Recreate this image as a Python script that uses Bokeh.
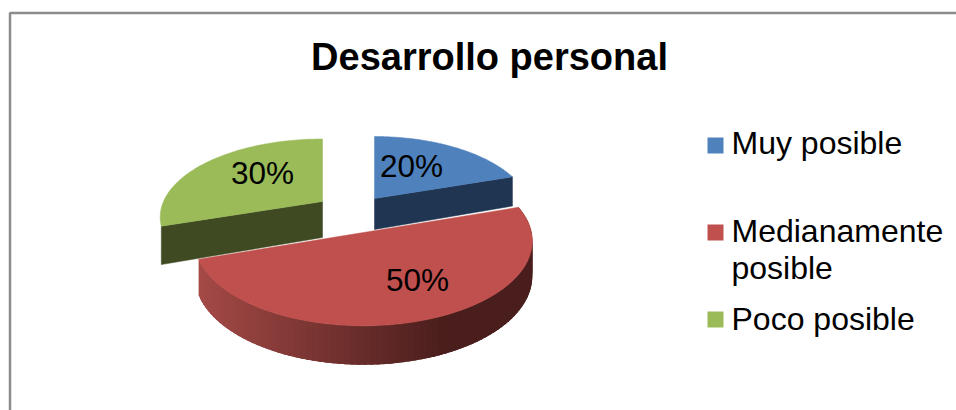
import math
from bokeh.plotting import figure
from bokeh.models import Range1d
from bokeh.core.properties import value
from bokeh.embed import file_html
from bokeh.resources import INLINE

# Data
title = "Desarrollo personal"
categories = ["Muy posible", "Medianamente posible", "Poco posible"]
shares = [20, 50, 30]

# Style / layout
W, H = 956, 410
FONT = "Liberation Sans"
top_colors = ["#4F81BD", "#C0504D", "#9BBB59"]
face_colors = ["#1F3552", "#A04542", "#3F4A23"]
# apex x, apex y, radius x, radius y, perspective, depth
geom = [
    (374, 198, 154, 74.4, 0.20, 31),
    (363, 232, 168, 84, 0.10, 35),
    (322, 201, 159, 75, 0.20, 36),
]
label_pos = [(411, 165), (417, 279), (262, 172)]

p = figure(width=W, height=H, output_backend="svg", toolbar_location=None,
           x_range=Range1d(0, W), y_range=Range1d(H, 0),
           min_border=0, outline_line_color=None)
p.xaxis.visible = False
p.yaxis.visible = False
p.grid.visible = False
p.background_fill_color = "white"


def rim(g, deg):
    cx, cy, a, b, k, d = g
    t = math.radians(deg)
    u, v = math.sin(t), math.cos(t)
    w = 1 + k * v
    return cx + a * u / w, cy - b * v / w, d / w


def hex2rgb(h):
    return [int(h[i:i + 2], 16) for i in (1, 3, 5)]


def mix(c1, c2, t):
    a, b = hex2rgb(c1), hex2rgb(c2)
    return "#%02x%02x%02x" % tuple(round(a[i] + (b[i] - a[i]) * t) for i in range(3))


total = sum(shares)
starts, ends = [], []
acc = 0
for s in shares:
    starts.append(acc / total * 360)
    acc += s
    ends.append(acc / total * 360)

# border (left + top)
p.line([9.5, 9.5, W], [H, 12.5, 12.5], line_color="#8C8C8C", line_width=2.5)

# cut faces: green, blue
for i in (2, 0):
    g = geom[i]
    ang = ends[i] if i == 0 else starts[i]
    x, y, d = rim(g, ang)
    cx, cy, dd = g[0], g[1], g[5]
    p.patch([cx, x, x, cx], [cy, y, y + d, cy + dd],
            fill_color=face_colors[i], line_color=face_colors[i], line_width=0.5)

# red outer wall with left-to-right shading; each band overlaps the next
g = geom[1]
n = 90
step = (ends[1] - starts[1]) / n
for j in range(n):
    a0 = ends[1] - step * j
    a1 = max(a0 - step * 2.5, starts[1])
    x0, y0, d0 = rim(g, a0)
    x1, y1, d1 = rim(g, a1)
    t = min(1, max(0, (0.5 * (x0 + x1) - 198) / 250))
    col = mix("#A54A47", "#4A1E1C", t)
    p.patch([x0, x1, x1, x0], [y0, y1, y1 + d1, y0 + d0],
            fill_color=col, line_color=None)

# top faces
for i in (2, 0, 1):
    g = geom[i]
    pts = [rim(g, starts[i] + (ends[i] - starts[i]) * j / 80) for j in range(81)]
    xs = [g[0]] + [q[0] for q in pts]
    ys = [g[1]] + [q[1] for q in pts]
    p.patch(xs, ys, fill_color=top_colors[i], line_color=top_colors[i], line_width=0.5)

# percent labels
for s, (x, y) in zip(shares, label_pos):
    p.text([x], [y], text=[f"{s}%"], text_font=value(FONT), text_font_size="31.5px",
           text_color="#000000", text_align="center", text_baseline="alphabetic")

# title
p.text([489], [56], text=[title], text_font=value(FONT), text_font_style="bold",
       text_font_size="38px", text_color="#000000", text_align="center",
       text_baseline="alphabetic")

# legend
sw_y = [145, 232, 319]
for y, c in zip(sw_y, top_colors):
    p.quad(left=[707], right=[723], top=[y - 8], bottom=[y + 8], fill_color=c, line_color=None)

lines = [("Muy posible", 142.5), ("Medianamente", 230), ("posible", 267), ("Poco posible", 318)]
for t, y in lines:
    p.text([731], [y], text=[t], text_font=value(FONT), text_font_size="32px",
           text_color="#000000", text_align="left", text_baseline="alphabetic")

open("out.html", "w").write(file_html(p, INLINE))
